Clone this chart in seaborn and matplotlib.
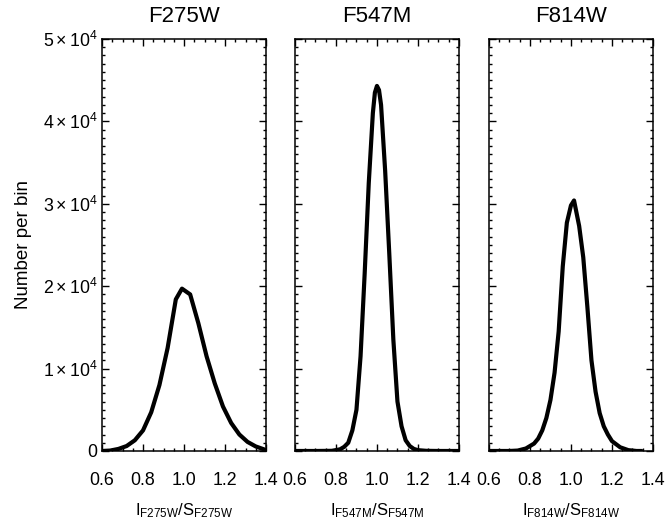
import numpy as np
import pandas as pd
import seaborn as sns
import matplotlib.pyplot as plt
from matplotlib.ticker import MultipleLocator, FixedLocator

# values
filters = ['F275W', 'F547M', 'F814W']

x_f275w = [0.60, 0.64, 0.68, 0.72, 0.76, 0.80, 0.84, 0.88, 0.92, 0.96, 0.99,
           1.03, 1.07, 1.11, 1.15, 1.19, 1.23, 1.27, 1.31, 1.35, 1.39, 1.40]
y_f275w = [0, 50, 250, 600, 1300, 2500, 4700, 8000, 12500, 18400, 19700,
           19000, 15500, 11500, 8200, 5400, 3400, 2000, 1100, 550, 200, 50]

x_f547m = [0.60, 0.70, 0.78, 0.82, 0.84, 0.86, 0.88, 0.90, 0.92, 0.94, 0.96,
           0.98, 0.99, 1.00, 1.01, 1.02, 1.04, 1.06, 1.08, 1.10, 1.12, 1.14,
           1.16, 1.18, 1.20, 1.24, 1.30, 1.40]
y_f547m = [0, 0, 20, 200, 500, 1000, 2500, 5000, 11500, 21500, 32500,
           41000, 43500, 44300, 43800, 42000, 34000, 24000, 13500, 6000, 3000, 1300,
           600, 250, 100, 20, 0, 0]

x_f814w = [0.60, 0.70, 0.74, 0.78, 0.82, 0.84, 0.86, 0.88, 0.90, 0.92, 0.94,
           0.96, 0.98, 1.00, 1.015, 1.04, 1.06, 1.08, 1.10, 1.12, 1.14, 1.16,
           1.18, 1.20, 1.24, 1.28, 1.32, 1.345]
y_f814w = [0, 0, 50, 300, 900, 1500, 2500, 4000, 6200, 9500, 14500,
           22400, 27700, 29800, 30400, 27300, 23500, 17500, 11000, 7200, 4600, 3000,
           2000, 1200, 450, 100, 0, 0]

curves = {
    'F275W': (x_f275w, y_f275w),
    'F547M': (x_f547m, y_f547m),
    'F814W': (x_f814w, y_f814w),
}

ytick_vals = [0, 10000, 20000, 30000, 40000, 50000]
ytick_labels = ['0', r'$1\times10^{4}$', r'$2\times10^{4}$', r'$3\times10^{4}$',
                r'$4\times10^{4}$', r'$5\times10^{4}$']

sns.set_style('ticks')
plt.rcParams['font.family'] = ['Liberation Sans', 'DejaVu Sans']
plt.rcParams['mathtext.fontset'] = 'custom'
plt.rcParams['mathtext.rm'] = 'Liberation Sans'
plt.rcParams['mathtext.it'] = 'Liberation Sans'
plt.rcParams['mathtext.bf'] = 'Liberation Sans:bold'
for key in ['text.color', 'axes.labelcolor', 'xtick.color', 'ytick.color']:
    plt.rcParams[key] = 'black'

fig = plt.figure(figsize=(6.66, 5.23), dpi=100)
lefts = [0.1532, 0.4429, 0.7342]

for i, name in enumerate(filters):
    ax = fig.add_axes([lefts[i], 0.1377, 0.2462, 0.7878])
    xs, ys = curves[name]
    df = pd.DataFrame({'ratio': xs, 'count': ys})
    sns.lineplot(data=df, x='ratio', y='count', ax=ax, color='black',
                 linewidth=3.0, sort=False, estimator=None)
    ax.set_xlim(0.6, 1.4)
    ax.set_ylim(0, 50000)
    ax.xaxis.set_major_locator(FixedLocator([0.6, 0.8, 1.0, 1.2, 1.4]))
    ax.xaxis.set_minor_locator(MultipleLocator(0.05))
    ax.yaxis.set_major_locator(FixedLocator(ytick_vals))
    ax.yaxis.set_minor_locator(MultipleLocator(1000))
    ax.set_xticklabels(['0.6', '0.8', '1.0', '1.2', '1.4'])
    ax.tick_params(which='both', direction='in', top=True, right=True,
                   color='black', width=1)
    ax.tick_params(which='major', length=5)
    ax.tick_params(which='minor', length=2.5)
    ax.tick_params(axis='x', which='major', pad=15, labelsize=12.8)
    ax.tick_params(axis='y', which='major', pad=3.5, labelsize=12.8)
    for sp in ax.spines.values():
        sp.set_color('black')
        sp.set_linewidth(1.1)
    ax.set_title(name, fontsize=16, pad=12)
    ax.set_xlabel(r'$\mathrm{I_{%s}/S_{%s}}$' % (name, name), fontsize=12,
                  labelpad=9)
    if i == 0:
        ax.set_yticklabels(ytick_labels)
        ax.set_ylabel('Number per bin', fontsize=13.5, labelpad=8)
    else:
        ax.set_yticklabels([])
        ax.set_ylabel('')

fig.savefig('out.png', dpi=100)
